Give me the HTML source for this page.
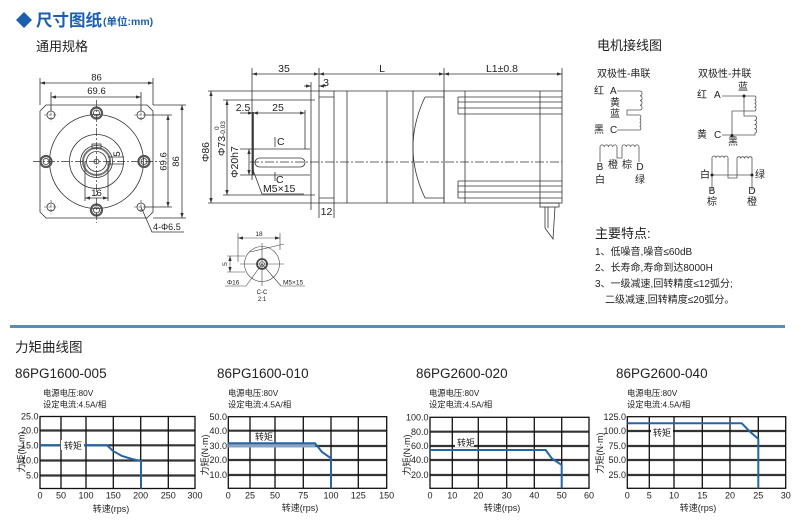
<!DOCTYPE html>
<html><head><meta charset="utf-8">
<style>
html,body{margin:0;padding:0;background:#fff;}
svg{display:block;}
text{font-family:"Liberation Sans","Noto Sans CJK SC",sans-serif;fill:#222;}
</style></head><body>
<svg width="800" height="526" viewBox="0 0 800 526" xmlns="http://www.w3.org/2000/svg">
<defs>
<marker id="ar" viewBox="0 0 6 4" refX="6" refY="2" markerWidth="5" markerHeight="3.4" markerUnits="userSpaceOnUse" orient="auto-start-reverse"><path d="M0,0L6,2L0,4z" fill="#333"/></marker>
</defs>

<!-- Header -->
<path d="M24,12 L32,20 L24,28 L16,20Z" fill="#1b5fae"/>
<text x="36" y="26" font-size="16.5" font-weight="bold" style="fill:#1b5fae">尺寸图纸</text>
<text x="103" y="25" font-size="10.5" font-weight="bold" style="fill:#1b5fae">(单位:mm)</text>
<text x="36" y="51" font-size="13">通用规格</text>

<!-- Front view -->
<g fill="none" stroke="#333" stroke-width="0.8">
  <path d="M46,105H147L153,111V212L147,218H46L40,212V111Z"/>
  <circle cx="96.5" cy="161.5" r="47"/>
  <circle cx="96.5" cy="161.5" r="27"/>
  <circle cx="96.5" cy="161.5" r="16"/>
  <circle cx="96.5" cy="161.5" r="13.5" stroke-width="2" stroke="#777"/>
  <circle cx="96.5" cy="161.5" r="10"/>
  <circle cx="96.5" cy="161.5" r="2.5"/>
  <rect x="92" y="144" width="9" height="4"/>
  <g stroke="#555" stroke-width="2.2">
    <circle cx="96.5" cy="113" r="5.5"/><circle cx="96.5" cy="210" r="5.5"/>
    <circle cx="46" cy="161.5" r="5.5"/><circle cx="144" cy="161.5" r="5.5"/>
  </g>
  <circle cx="96.5" cy="113" r="3"/><circle cx="96.5" cy="210" r="3"/>
  <circle cx="46" cy="161.5" r="3"/><circle cx="144" cy="161.5" r="3"/>
  <circle cx="51" cy="115" r="4"/><circle cx="141" cy="115" r="4"/>
  <circle cx="51" cy="207" r="4"/><circle cx="141" cy="207" r="4"/>
  <g stroke-dasharray="3 1.5" stroke-width="0.6">
    <path d="M44,115H58M51,108V122M134,115H148M141,108V122M44,207H58M51,200V214M134,207H148M141,200V214"/>
  </g>
  <path d="M33,161.5H160M96.5,100V223" stroke-dasharray="8 2 2 2" stroke-width="0.7"/>
  <!-- dims -->
  <path d="M40,78V105M153,78V105M51,92V111M141,92V111M153,105H186M153,218H186M145,115H172M145,207H172"/>
  <path d="M40,83H153" marker-start="url(#ar)" marker-end="url(#ar)"/>
  <path d="M51,97H141" marker-start="url(#ar)" marker-end="url(#ar)"/>
  <path d="M182,105V218" marker-start="url(#ar)" marker-end="url(#ar)"/>
  <path d="M168,115V207" marker-start="url(#ar)" marker-end="url(#ar)"/>
  <path d="M85,161V201M108,161V201"/>
  <path d="M85,198H108" marker-start="url(#ar)" marker-end="url(#ar)"/>
  <path d="M108,157H124M108,164H124"/>
  <path d="M141,207L152,232H184"/>
</g>
<g font-size="9.5">
  <text x="96.5" y="80.5" text-anchor="middle">86</text>
  <text x="96.5" y="94" text-anchor="middle">69.6</text>
  <text transform="translate(179,161.5) rotate(-90)" text-anchor="middle">86</text>
  <text transform="translate(166.5,161.5) rotate(-90)" text-anchor="middle">69.6</text>
  <text x="96.5" y="196" text-anchor="middle">16</text>
  <text transform="translate(120,154) rotate(-90)" text-anchor="middle">5</text>
  <text x="153" y="230" font-size="9">4-Φ6.5</text>
</g>

<!-- Side view -->
<g fill="none" stroke="#333" stroke-width="0.8">
  <!-- top dims -->
  <path d="M252,68V180M319,68V91M444,68V91M562,68V91"/>
  <path d="M252,74H319" marker-start="url(#ar)" marker-end="url(#ar)"/>
  <path d="M319,74H444" marker-start="url(#ar)" marker-end="url(#ar)"/>
  <path d="M444,74H562" marker-start="url(#ar)" marker-end="url(#ar)"/>
  <path d="M311,82V210"/>
  <path d="M304,86H311" marker-end="url(#ar)"/>
  <path d="M326,86H319" marker-end="url(#ar)"/>
  <!-- flange -->
  <rect x="319" y="91" width="15" height="112"/>
  <path d="M319,97H334M319,198H334"/>
  <!-- gear body -->
  <path d="M334,91H444V203H334"/>
  <path d="M347,91V203M387,91V203M413,91V203M444,91V203"/>
  <path d="M425,97H444M425,198H444"/>
  <path d="M425,97Q401,147.5 425,198"/>
  <!-- motor -->
  <path d="M444,91H562V203H444"/>
  <path d="M465,91V203M540,91V203"/>
  <path d="M458,97H562M458,102H562M458,108H562M458,114H562M458,97V114"/>
  <path d="M458,181H562M458,186H562M458,192H562M458,198H562M458,181V198"/>
  <!-- cable -->
  <rect x="540" y="203" width="19" height="4"/>
  <path d="M545,207V228L553,239L555,207"/>
  <path d="M548,207V228"/>
  <!-- ext lines left -->
  <path d="M208,91H319M208,203H319M223,100H315M223,195H315M240,149H310M240,175H310"/>
  <path d="M211,91V203" marker-start="url(#ar)" marker-end="url(#ar)"/>
  <path d="M227,100V195" marker-start="url(#ar)" marker-end="url(#ar)"/>
  <path d="M249,149V175" marker-start="url(#ar)" marker-end="url(#ar)"/>
  <!-- shaft -->
  <path d="M253,112V175" stroke-width="1.6"/>
  <path d="M305,110V149"/>
  <path d="M240,113H253" marker-end="url(#ar)"/>
  <path d="M253,113H305" marker-start="url(#ar)" marker-end="url(#ar)"/>
  <rect x="255" y="158" width="50" height="9" rx="4.5"/>
  <path d="M275,137V147M275,172V181"/>
  <path d="M253,170L262,194H304"/>
  <path d="M250,162H562" stroke-dasharray="9 2 2 2" stroke-width="0.7"/>
  <path d="M319,203V218M334,203V218"/>
</g>
<g font-size="10.5">
  <text x="284" y="72" text-anchor="middle">35</text>
  <text x="382" y="72" text-anchor="middle">L</text>
  <text x="502" y="72" text-anchor="middle">L1±0.8</text>
  <text x="326" y="86" text-anchor="middle">3</text>
  <text x="243" y="111" text-anchor="middle">2.5</text>
  <text x="278" y="111" text-anchor="middle">25</text>
  <text x="277" y="145">C</text>
  <text x="276" y="183">C</text>
  <text x="263" y="192">M5×15</text>
  <text x="326.5" y="215" text-anchor="middle">12</text>
  <text transform="translate(209,152) rotate(-90)" text-anchor="middle">Φ86</text>
  <text transform="translate(225,156) rotate(-90)">Φ73<tspan font-size="6.5">-0.03</tspan></text>
  <text transform="translate(219,130) rotate(-90)" font-size="6.5">0</text>
  <text transform="translate(238,162) rotate(-90)" text-anchor="middle">Φ20h7</text>
</g>

<!-- Section C-C -->
<g fill="none" stroke="#444" stroke-width="0.6">
  <circle cx="262" cy="264" r="17.5"/>
  <circle cx="262" cy="264" r="5" stroke-width="1.8"/>
  <circle cx="262" cy="264" r="2.5"/>
  <path d="M240,264H284M262,243V286M250,252L284,244M246,286L262,264M281,286L262,264"/>
  <path d="M238,233V262M280,233V250"/>
  <path d="M238,238H280" marker-start="url(#ar)" marker-end="url(#ar)"/>
  <path d="M227,256H245M227,272H245"/>
  <path d="M230,256V272" marker-start="url(#ar)" marker-end="url(#ar)"/>
  <path d="M225,286H246M281,286H305"/>
</g>
<g font-size="6.5">
  <text x="259" y="236" text-anchor="middle">18</text>
  <text transform="translate(227,264) rotate(-90)" text-anchor="middle">5</text>
  <text x="227" y="284.5">Φ16</text>
  <text x="283" y="284.5">M5×15</text>
  <text x="262" y="294" text-anchor="middle" font-size="6">C-C</text>
  <text x="262" y="301" text-anchor="middle" font-size="6">2:1</text>
</g>

<!-- Wiring -->
<text x="597" y="50" font-size="13">电机接线图</text>
<g font-size="10">
  <text x="597" y="77">双极性-串联</text>
  <text x="698" y="77">双极性-并联</text>
  <text x="599" y="94" text-anchor="middle">红</text>
  <text x="610" y="94">A</text>
  <text x="615" y="106" text-anchor="middle">黄</text>
  <text x="615" y="117" text-anchor="middle">蓝</text>
  <text x="599" y="133" text-anchor="middle">黑</text>
  <text x="610" y="133">C</text>
  <text x="600" y="170" text-anchor="middle">B</text>
  <text x="600" y="183" text-anchor="middle">白</text>
  <text x="613" y="168" text-anchor="middle">橙</text>
  <text x="627" y="168" text-anchor="middle">棕</text>
  <text x="640" y="170" text-anchor="middle">D</text>
  <text x="640" y="183" text-anchor="middle">绿</text>

  <text x="702" y="98" text-anchor="middle">红</text>
  <text x="714" y="98">A</text>
  <text x="743" y="90" text-anchor="middle">蓝</text>
  <text x="702" y="138" text-anchor="middle">黄</text>
  <text x="714" y="138">C</text>
  <text x="733" y="145" text-anchor="middle">黑</text>
  <text x="705" y="178" text-anchor="middle">白</text>
  <text x="760" y="178" text-anchor="middle">绿</text>
  <text x="712" y="194" text-anchor="middle">B</text>
  <text x="712" y="205" text-anchor="middle">棕</text>
  <text x="752" y="194" text-anchor="middle">D</text>
  <text x="752" y="205" text-anchor="middle">橙</text>
</g>
<g fill="none" stroke="#555" stroke-width="0.8">
  <!-- series -->
  <path d="M617,91H640a2.4,2.4 0 0 1 0,4.75a2.4,2.4 0 0 1 0,4.75a2.4,2.4 0 0 1 0,4.75a2.4,2.4 0 0 1 0,4.75H627V115H640a2.4,2.4 0 0 1 0,3.75a2.4,2.4 0 0 1 0,3.75a2.4,2.4 0 0 1 0,3.75a2.4,2.4 0 0 1 0,3.75V130H617"/>
  <path d="M600,162V147a2.125,2.125 0 0 1 4.25,0a2.125,2.125 0 0 1 4.25,0a2.125,2.125 0 0 1 4.25,0a2.125,2.125 0 0 1 4.25,0V158H622V147a2.125,2.125 0 0 1 4.25,0a2.125,2.125 0 0 1 4.25,0a2.125,2.125 0 0 1 4.25,0a2.125,2.125 0 0 1 4.25,0V162"/>
  <!-- parallel -->
  <path d="M722,96H755a2.2,2.2 0 0 1 0,3.75a2.2,2.2 0 0 1 0,3.75a2.2,2.2 0 0 1 0,3.75a2.2,2.2 0 0 1 0,3.75H732V136"/>
  <path d="M744,96V116H755a2.2,2.2 0 0 1 0,4.25a2.2,2.2 0 0 1 0,4.25a2.2,2.2 0 0 1 0,4.25a2.2,2.2 0 0 1 0,4.25V135H722"/>
  <path d="M712,190V158a2,2 0 0 1 4,0a2,2 0 0 1 4,0a2,2 0 0 1 4,0a2,2 0 0 1 4,0V178H737V158a2,2 0 0 1 3.75,0a2,2 0 0 1 3.75,0a2,2 0 0 1 3.75,0a2,2 0 0 1 3.75,0V190"/>
  <path d="M712,175H752"/>
</g>
<g fill="#222">
  <circle cx="744" cy="96" r="1.5"/><circle cx="732" cy="135.5" r="1.5"/>
  <circle cx="712" cy="175" r="1.5"/><circle cx="752" cy="175" r="1.5"/>
</g>

<!-- Features -->
<text x="595" y="238" font-size="13">主要特点:</text>
<g font-size="10">
  <text x="595" y="255">1、低噪音,噪音≤60dB</text>
  <text x="595" y="271">2、长寿命,寿命到达8000H</text>
  <text x="595" y="287">3、一级减速,回转精度≤12弧分;</text>
  <text x="605" y="303">二级减速,回转精度≤20弧分。</text>
</g>

<!-- Divider -->
<path d="M10,326.5H785" stroke="#5b8cb3" stroke-width="3"/>
<text x="15" y="352" font-size="13.5">力矩曲线图</text>

<!-- Chart titles -->
<g font-size="13.5">
  <text x="15" y="378">86PG1600-005</text>
  <text x="217" y="378">86PG1600-010</text>
  <text x="416" y="378">86PG2600-020</text>
  <text x="616" y="378">86PG2600-040</text>
</g>
<g font-size="8.3">
  <text x="43" y="396">电源电压:80V</text><text x="43" y="407.5">设定电流:4.5A/相</text>
  <text x="228" y="396">电源电压:80V</text><text x="228" y="407.5">设定电流:4.5A/相</text>
  <text x="429" y="396">电源电压:80V</text><text x="429" y="407.5">设定电流:4.5A/相</text>
  <text x="627" y="396">电源电压:80V</text><text x="627" y="407.5">设定电流:4.5A/相</text>
</g>

<!-- Chart 1 -->
<g>
  <path d="M40,430.5H195M40,445.3H195M40,460.5H195M40,475.5H195" stroke="#333" stroke-width="2.2"/>
  <path d="M61,416.5V488.5M86,416.5V488.5M113.3,416.5V488.5M140.7,416.5V488.5M168.3,416.5V488.5" stroke="#111" stroke-width="1.3"/>
  <rect x="40" y="416.5" width="155" height="72" fill="none" stroke="#111" stroke-width="1.3"/>
  <path d="M40,445.3H107L113,451L122,456L132,459L141,461V488.5" fill="none" stroke="#2366a8" stroke-width="2"/>
  <rect x="61" y="440" width="23" height="10" fill="#fff"/>
  <text x="64" y="449" font-size="9">转矩</text>
</g>
<g font-size="9" text-anchor="end">
  <text x="38.5" y="419.5">25.0</text><text x="38.5" y="433.5">20.0</text><text x="38.5" y="448.5">15.0</text><text x="38.5" y="463.5">10.0</text><text x="38.5" y="478.5">5.0</text>
</g>
<g font-size="9" text-anchor="middle">
  <text x="40" y="498.5">0</text><text x="61" y="498.5">50</text><text x="86" y="498.5">100</text><text x="113.3" y="498.5">150</text><text x="140.7" y="498.5">200</text><text x="168.3" y="498.5">250</text><text x="195" y="498.5">300</text>
  <text x="111" y="512">转速(rps)</text>
  <text transform="translate(24.5,452) rotate(-90)">力矩(N·m)</text>
</g>

<!-- Chart 2 -->
<g>
  <path d="M228.3,430.7H386.7M228.3,446H386.7M228.3,460H386.7M228.3,475H386.7" stroke="#333" stroke-width="2.2"/>
  <path d="M250,416.7V488.3M275,416.7V488.3M303.3,416.7V488.3M331,416.7V488.3M358.3,416.7V488.3" stroke="#111" stroke-width="1.3"/>
  <rect x="228.3" y="416.7" width="158.4" height="71.6" fill="none" stroke="#111" stroke-width="1.3"/>
  <rect x="228.3" y="443" width="87" height="4.5" fill="#8da3bb"/>
  <path d="M228.3,443.3H315L322,452L331,458.3V488.3" fill="none" stroke="#2366a8" stroke-width="2"/>
  <text x="255" y="440" font-size="9">转矩</text>
</g>
<g font-size="9" text-anchor="end">
  <text x="227" y="420">50.0</text><text x="227" y="434">40.0</text><text x="227" y="449">30.0</text><text x="227" y="463">20.0</text><text x="227" y="478">10.0</text>
</g>
<g font-size="9" text-anchor="middle">
  <text x="228.3" y="498.5">0</text><text x="250" y="498.5">25</text><text x="275" y="498.5">50</text><text x="303.3" y="498.5">75</text><text x="331" y="498.5">100</text><text x="358.3" y="498.5">125</text><text x="386.7" y="498.5">150</text>
  <text x="300" y="511">转速(rps)</text>
  <text transform="translate(208,455) rotate(-90)">力矩(N·m)</text>
</g>

<!-- Chart 3 -->
<g>
  <path d="M430,431.7H589M430,446H589M430,460H589M430,475H589" stroke="#333" stroke-width="2.2"/>
  <path d="M452.3,417.3V488.3M478.3,417.3V488.3M506.7,417.3V488.3M534.3,417.3V488.3M561.7,417.3V488.3" stroke="#111" stroke-width="1.3"/>
  <rect x="430" y="417.3" width="159" height="71" fill="none" stroke="#111" stroke-width="1.3"/>
  <path d="M430,450H545.7L551.7,458.3L561.7,465V488.3" fill="none" stroke="#2366a8" stroke-width="2"/>
  <rect x="455" y="438" width="19" height="9" fill="#fff"/>
  <text x="457" y="446" font-size="9">转矩</text>
</g>
<g font-size="9" text-anchor="end">
  <text x="428.5" y="420.5">100.0</text><text x="428.5" y="435">80.0</text><text x="428.5" y="449">60.0</text><text x="428.5" y="463">40.0</text><text x="428.5" y="478">20.0</text>
</g>
<g font-size="9" text-anchor="middle">
  <text x="430" y="498.5">0</text><text x="452.3" y="498.5">10</text><text x="478.3" y="498.5">20</text><text x="506.7" y="498.5">30</text><text x="534.3" y="498.5">40</text><text x="561.7" y="498.5">50</text><text x="589" y="498.5">60</text>
  <text x="502" y="511">转速(rps)</text>
  <text transform="translate(410,455) rotate(-90)">力矩(N·m)</text>
</g>

<!-- Chart 4 -->
<g>
  <path d="M627.3,431H785.7M627.3,446H785.7M627.3,460H785.7M627.3,475H785.7" stroke="#333" stroke-width="2.2"/>
  <path d="M649.3,416.7V488.3M674,416.7V488.3M702.3,416.7V488.3M730,416.7V488.3M758.3,416.7V488.3" stroke="#111" stroke-width="1.3"/>
  <rect x="627.3" y="416.7" width="158.4" height="71.6" fill="none" stroke="#111" stroke-width="1.3"/>
  <path d="M627.3,423.3H741.7L750,431.7L758.3,439V488.3" fill="none" stroke="#2366a8" stroke-width="2"/>
  <rect x="651" y="427" width="22" height="11" fill="#fff"/>
  <text x="653" y="436" font-size="9">转矩</text>
</g>
<g font-size="9" text-anchor="end">
  <text x="626" y="420">125.0</text><text x="626" y="434">100.0</text><text x="626" y="449">75.0</text><text x="626" y="463">50.0</text><text x="626" y="478">25.0</text>
</g>
<g font-size="9" text-anchor="middle">
  <text x="627.3" y="498.5">0</text><text x="649.3" y="498.5">5</text><text x="674" y="498.5">10</text><text x="702.3" y="498.5">15</text><text x="730" y="498.5">20</text><text x="758.3" y="498.5">25</text><text x="785.7" y="498.5">30</text>
  <text x="698" y="511">转速(rps)</text>
  <text transform="translate(603,453) rotate(-90)">力矩(N·m)</text>
</g>
</svg>
</body></html>
